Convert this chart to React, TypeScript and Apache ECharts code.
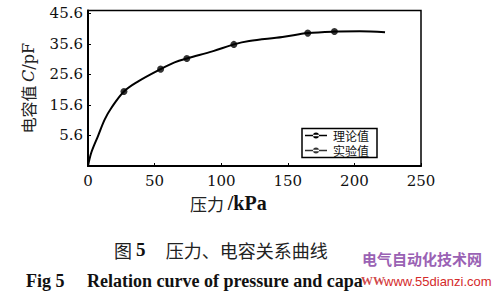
import React, { useEffect, useRef } from "react";
import * as echarts from "echarts";

// Experimental points (pressure kPa, capacitance pF)
const expPressure = [27, 54.5, 74.2, 109.5, 165, 185];
const expCap = [20.0, 27.3, 30.8, 35.4, 39.1, 39.6];

// Theoretical curve
const theoPressure = [0, 2.5, 7.5, 12.5, 17.5, 27, 37.7, 54.5, 65, 74.2, 94, 109.5, 121, 146, 165, 185, 204, 223];
const theoCap = [-4.4, 0.0, 5.4, 10.8, 14.6, 20.0, 23.3, 27.3, 29.5, 30.8, 33.2, 35.4, 36.5, 37.8, 39.1, 39.6, 39.7, 39.4];

const yTickLabels = [5.6, 15.6, 25.6, 35.6, 45.6];
const xTicks = [0, 50, 100, 150, 200, 250];
const legendNames = ["理论值", "实验值"];

const SERIF = "'DejaVu Serif', 'Liberation Serif', serif";
const TIMES = "'Liberation Serif', serif";
const CJK = "'Noto Sans CJK SC', sans-serif";
const LEGEND_ICON = "path://M0,2.3h22v1.4h-22z M8,3a3,3 0 1,0 6,0a3,3 0 1,0 -6,0z";

export default function App() {
  const ref = useRef<HTMLDivElement>(null);
  useEffect(() => {
    if (!ref.current) return;
    const chart = echarts.init(ref.current, null, { renderer: "svg" });
    chart.setOption({
      animation: false,
      backgroundColor: "#fff",
      grid: {
        left: 88,
        top: 10.5,
        width: 333,
        height: 155.5,
        show: true,
        borderColor: "#000",
        borderWidth: 1.5,
        backgroundColor: "transparent",
      },
      legend: {
        orient: "vertical",
        left: 302,
        top: 128.5,
        padding: [1, 8, 1, 3],
        itemGap: 3,
        itemWidth: 22,
        itemHeight: 6,
        borderColor: "#000",
        borderWidth: 1.5,
        borderRadius: 0,
        textStyle: { fontFamily: CJK, fontSize: 12, lineHeight: 12, color: "#111", padding: [0, 0, 0, 1] },
        data: [
          { name: legendNames[0], icon: LEGEND_ICON },
          { name: legendNames[1], icon: LEGEND_ICON },
        ],
      },
      xAxis: {
        type: "value",
        min: xTicks[0],
        max: xTicks[xTicks.length - 1],
        interval: 50,
        axisLine: { show: true, onZero: false, lineStyle: { color: "#000", width: 2 } },
        axisTick: { show: true, inside: true, length: 3, lineStyle: { color: "#000" } },
        axisLabel: { fontFamily: SERIF, fontSize: 15, color: "#111", margin: 7 },
        splitLine: { show: false },
      },
      yAxis: {
        type: "value",
        min: -4.4,
        max: 46.5,
        axisLine: { show: true, onZero: false, lineStyle: { color: "#000", width: 2 } },
        axisTick: { show: true, inside: true, length: 3, customValues: yTickLabels, lineStyle: { color: "#000" } },
        axisLabel: {
          fontFamily: SERIF,
          fontSize: 15,
          color: "#111",
          margin: 5,
          customValues: yTickLabels,
          formatter: (v: number) => v.toFixed(1),
        },
        splitLine: { show: false },
        name: "{a|电容值 }{b|C}{c|/pF}",
        nameLocation: "middle",
        nameGap: 52,
        nameTextStyle: {
          rich: {
            a: { fontFamily: CJK, fontSize: 16, color: "#222" },
            b: { fontFamily: SERIF, fontSize: 16, fontStyle: "italic", color: "#222" },
            c: { fontFamily: SERIF, fontSize: 16, color: "#222" },
          },
        },
      },
      series: [
        {
          name: legendNames[0],
          type: "line",
          data: theoPressure.map((p, i) => [p, theoCap[i]]),
          smooth: 0.35,
          showSymbol: false,
          symbol: "none",
          lineStyle: { color: "#000", width: 2 },
          itemStyle: { color: "#000" },
        },
        {
          name: legendNames[1],
          type: "scatter",
          data: expPressure.map((p, i) => [p, expCap[i]]),
          symbol: "circle",
          symbolSize: 7,
          itemStyle: { color: "#000" },
        },
      ],
      graphic: [
        {
          type: "text",
          left: 190,
          top: 193,
          style: {
            text: "{a|压力 }{b|/kPa}",
            rich: {
              a: { fontFamily: CJK, fontSize: 17, fill: "#222" },
              b: { fontFamily: TIMES, fontSize: 20, fontWeight: "bold", fill: "#111" },
            },
          },
        },
        {
          type: "text",
          left: 114,
          top: 240,
          style: {
            text: "{a|图 }{b|5}{a|     压力、电容关系曲线}",
            rich: {
              a: { fontFamily: CJK, fontSize: 18, fill: "#222" },
              b: { fontFamily: TIMES, fontSize: 19, fontWeight: "bold", fill: "#111" },
            },
          },
        },
        {
          type: "text",
          left: 26,
          top: 272,
          style: {
            text: "Fig 5     Relation curve of pressure and capa",
            fontFamily: TIMES,
            fontSize: 18,
            fontWeight: "bold",
            fill: "#111",
          },
        },
        {
          type: "text",
          left: 361,
          top: 275,
          style: {
            text: "WW",
            fontFamily: TIMES,
            fontSize: 12,
            fontWeight: "bold",
            fill: "rgba(200,40,40,0.85)",
          },
        },
        {
          type: "text",
          left: 362,
          top: 251,
          style: {
            text: "电气自动化技术网",
            fontFamily: CJK,
            fontSize: 15,
            fontWeight: "bold",
            fill: "#9a62b4",
          },
        },
        {
          type: "text",
          left: 384,
          top: 275,
          style: {
            text: "www.55dianzi.com",
            fontFamily: "'Liberation Sans', Arial, sans-serif",
            fontSize: 13,
            fill: "#d42a2a",
          },
        },
      ],
    });
    return () => chart.dispose();
  }, []);
  return (
    <div
      ref={ref}
      style={{ position: "fixed", left: 0, top: 0, width: 498, height: 295, background: "#fff" }}
    />
  );
}
